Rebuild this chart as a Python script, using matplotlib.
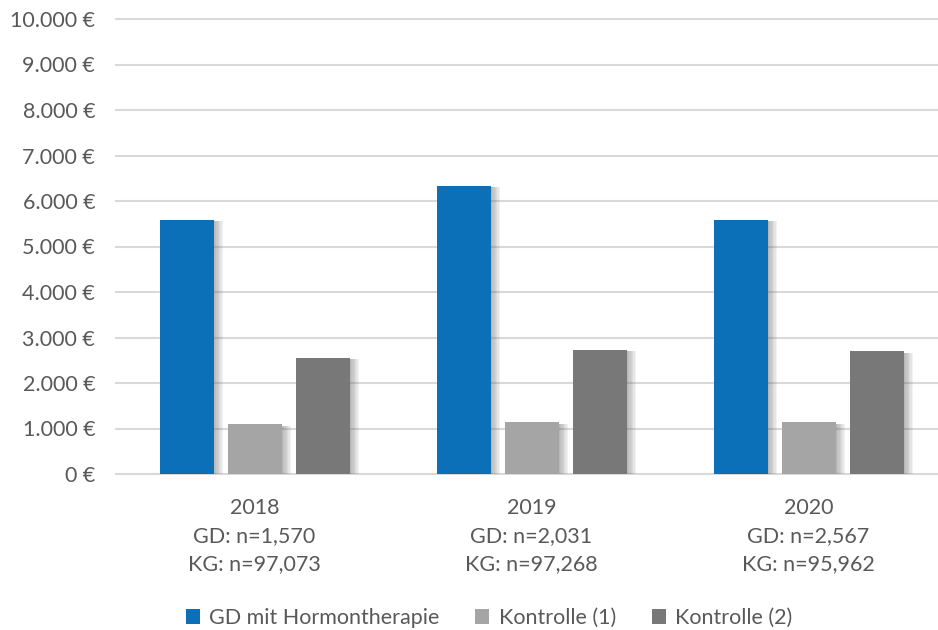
import matplotlib.pyplot as plt
import matplotlib.patheffects as pe
from matplotlib.patches import Patch
from matplotlib.ticker import FuncFormatter
import numpy as np

jahre = ["2018", "2019", "2020"]
gd_n = ["1,570", "2,031", "2,567"]
kg_n = ["97,073", "97,268", "95,962"]

serien = ["GD mit Hormontherapie", "Kontrolle (1)", "Kontrolle (2)"]
gd_hormon = [5580, 6340, 5580]
kontrolle1 = [1090, 1140, 1140]
kontrolle2 = [2560, 2730, 2700]
farben = ["#0B70B8", "#A5A5A5", "#787878"]

textfarbe = "#595959"
plt.rcParams['font.family'] = ['Lato', 'DejaVu Sans']
groesse = 15.5

fig = plt.figure(figsize=(9.38, 6.30), dpi=100)
ax = fig.add_axes([116 / 938, 156 / 630, 822 / 938, 455 / 630])

x = np.arange(len(jahre))
breite = 54 / 277
abstand = 68 / 277
# weicher Schatten rechts neben den Balken
schatten = [pe.SimplePatchShadow(offset=(d, -1), shadow_rgbFace="#707070", alpha=0.09) for d in (1, 2, 3, 4, 5, 6, 7)]
schatten.append(pe.Normal())

for i, (werte, farbe) in enumerate(zip([gd_hormon, kontrolle1, kontrolle2], farben)):
    bars = ax.bar(x + (i - 1) * abstand, werte, width=breite, color=farbe, zorder=3)
    for b in bars:
        b.set_path_effects(schatten)

ax.set_ylim(0, 10000)
ax.set_xlim(-0.5, -0.5 + 822 / 277)
ax.set_yticks(range(0, 10001, 1000))
ax.yaxis.set_major_formatter(FuncFormatter(lambda v, p: f"{v:,.0f}".replace(",", ".") + " €"))
ax.grid(axis='y', color="#D9D9D9", linewidth=1.5, zorder=0)
for g in ax.get_ygridlines():
    g.set_clip_on(False)
for s in ax.spines.values():
    s.set_visible(False)
ax.tick_params(axis='both', length=0, labelsize=groesse, labelcolor=textfarbe)
ax.tick_params(axis='y', pad=15)

ax.set_xticks(x)
ax.set_xticklabels([f"{j}\nGD: n={g}\nKG: n={k}" for j, g, k in zip(jahre, gd_n, kg_n)],
                   linespacing=1.53)
ax.tick_params(axis='x', pad=17)

handles = [Patch(facecolor=f, edgecolor='none') for f in farben]
fig.legend(handles, serien, loc='center', bbox_to_anchor=(489 / 938, 1 - 618 / 630), ncol=3,
           frameon=False, fontsize=groesse, handlelength=0.65, handleheight=0.65,
           handletextpad=0.45, columnspacing=1.65, labelcolor=textfarbe)

fig.savefig("out.png", dpi=100)
